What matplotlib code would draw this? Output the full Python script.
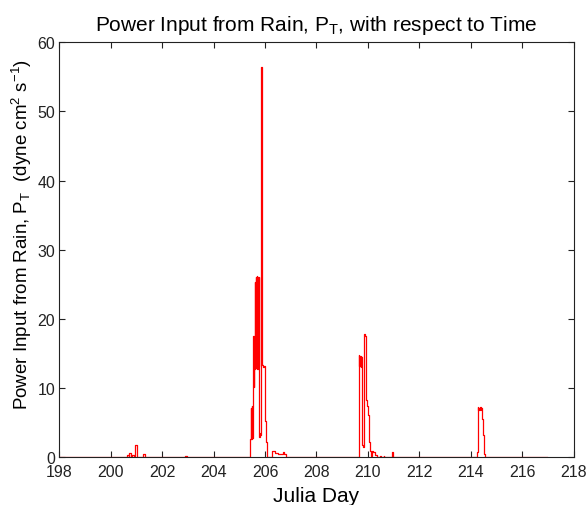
import matplotlib
matplotlib.use('Agg')
import matplotlib.pyplot as plt
import numpy as np

plt.rcParams['font.family'] = ['Liberation Sans', 'DejaVu Sans']
plt.rcParams['mathtext.default'] = 'regular'

# julian day / power input (dyne cm^2 s^-1)
day = [198.0,
       200.60, 200.62, 200.66, 200.70, 200.72, 200.78, 200.80, 200.82, 200.88, 200.90,
       200.93, 200.95, 201.01, 201.03, 201.25, 201.27, 201.33, 201.35,
       202.87, 202.89, 202.95, 202.97,
       205.38, 205.40, 205.43, 205.46, 205.47, 205.48, 205.49, 205.50, 205.51, 205.52,
       205.53, 205.54, 205.55, 205.56, 205.57, 205.58, 205.59, 205.60, 205.61, 205.62,
       205.63, 205.64, 205.65, 205.66, 205.67, 205.68, 205.69, 205.70, 205.71, 205.72,
       205.73, 205.74, 205.75, 205.76, 205.77, 205.78, 205.79, 205.80, 205.82, 205.85,
       205.88, 205.90, 205.91, 205.92, 205.93, 205.97, 206.01, 206.02, 206.05, 206.06,
       206.09, 206.25, 206.27, 206.33, 206.39, 206.41, 206.51, 206.53, 206.70, 206.74,
       206.77, 206.80,
       209.64, 209.655, 209.67, 209.685, 209.70, 209.715, 209.73, 209.745, 209.76, 209.78,
       209.82, 209.835, 209.85, 209.865, 209.88, 209.90, 209.91, 209.95, 209.97, 210.00,
       210.04, 210.05, 210.08, 210.10, 210.12, 210.15, 210.20, 210.28, 210.34, 210.36,
       210.45, 210.47, 210.49, 210.60, 210.62, 210.64, 210.93, 210.95, 210.97,
       214.22, 214.25, 214.28, 214.30, 214.32, 214.34, 214.36, 214.38, 214.40, 214.42,
       214.46, 214.50, 214.53, 214.56,
       216.95]

power = [0.0,
         0.0, 0.3, 0.3, 0.0, 0.7, 0.7, 0.0, 0.3, 0.3, 0.0,
         0.0, 1.8, 1.8, 0.0, 0.0, 0.5, 0.5, 0.0,
         0.0, 0.2, 0.2, 0.0,
         0.0, 1.2, 2.7, 7.2, 2.6, 7.4, 3.0, 6.8, 2.8, 10.5,
         17.2, 10.4, 17.5, 11.0, 16.8, 10.2, 17.4, 12.8, 25.3, 13.1,
         26.0, 13.5, 25.5, 12.9, 26.2, 13.2, 25.8, 12.8, 26.0, 13.0,
         25.6, 13.2, 26.1, 5.0, 3.2, 3.0, 3.5, 3.0, 3.2, 56.4,
         13.3, 13.3, 13.0, 13.3, 13.0, 13.2, 5.2, 5.0, 2.3, 2.0,
         0.0, 0.0, 0.95, 0.95, 0.6, 0.6, 0.5, 0.5, 0.8, 0.5,
         0.5, 0.0,
         0.0, 14.8, 13.2, 14.7, 13.3, 14.6, 13.1, 14.5, 13.2, 1.8,
         1.5, 17.8, 9.0, 17.9, 17.6, 17.6, 8.3, 8.3, 7.4, 6.1,
         6.0, 2.3, 1.0, 1.0, 0.2, 1.0, 0.8, 0.3, 0.3, 0.0,
         0.0, 0.2, 0.0, 0.0, 0.2, 0.0, 0.0, 0.8, 0.0,
         0.0, 0.8, 7.3, 6.8, 7.2, 6.9, 7.3, 6.9, 7.1, 5.6,
         3.2, 3.1, 0.5, 0.0,
         0.0]

fig = plt.figure(figsize=(5.86, 5.06), dpi=100)
ax = fig.add_axes([0.1012, 0.0939, 0.8777, 0.8211])
ax.step(day, power, where='post', color='red', lw=0.9)

ax.set_xlim(198, 218)
ax.set_ylim(0, 60)
ax.set_xticks(np.arange(198, 219, 2))
ax.set_yticks(np.arange(0, 61, 10))
ax.tick_params(direction='in', length=4, top=True, right=True, labelsize=11.5, colors='#222222')
ax.tick_params(axis='x', pad=5)
ax.tick_params(axis='y', pad=3)
for s in ax.spines.values():
    s.set_color('#222222')
    s.set_linewidth(0.8)

ax.set_title('Power Input from Rain, P$_T$, with respect to Time', fontsize=15, pad=9)
ax.set_xlabel('Julia Day', fontsize=15, labelpad=5)
ax.set_ylabel('Power Input from Rain, P$_T$  (dyne cm$^2$ s$^{-1}$)', fontsize=13.5)
ax.yaxis.set_label_coords(-0.05, 0.54)

fig.savefig('out.png', dpi=100)
